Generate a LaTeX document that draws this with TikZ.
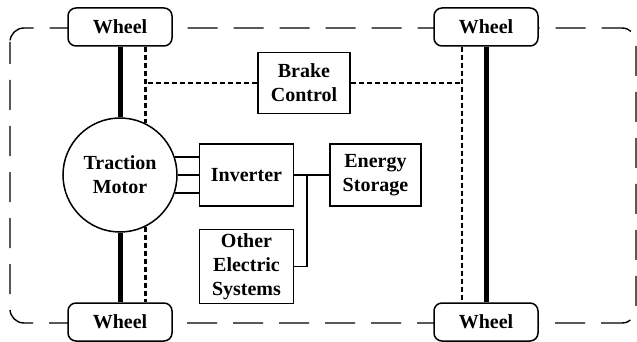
\documentclass[tikz,border=0pt]{standalone}
\usepackage{fontspec}
\setmainfont{Liberation Serif}
\usepackage{tikz}
\usetikzlibrary{positioning,calc}
\tikzset{
  lbl/.style={font=\fontsize{20}{24}\selectfont\bfseries, align=center},
  block/.style={lbl, rectangle, draw, line width=1.5pt, fill=white, inner sep=2pt},
  wheel/.style={block, rounded corners=8pt, minimum width=104pt, minimum height=38pt},
  motorc/.style={lbl, circle, draw, line width=1.5pt, fill=white, minimum size=114pt, inner sep=0pt},
  shaft/.style={line width=5pt},
  ctrl/.style={line width=2.6pt, dash pattern=on 5pt off 3pt},
  wire/.style={line width=1.5pt},
  frame/.style={line width=1.4pt, dash pattern=on 30pt off 16pt, dash phase=8pt, rounded corners=14pt},
}
\begin{document}
\begin{tikzpicture}[x=1pt, y=-1pt, node distance=21pt and 21pt]
  \useasboundingbox (0,0) rectangle (637,342);
  % vehicle outline
  \draw[frame] (10,28) rectangle (636,323);
  % wheels
  \node[wheel] (wTL) at (120,27) {Wheel};
  \node[wheel] (wTR) at (486,27) {Wheel};
  \node[wheel] (wBL) at (120,322) {Wheel};
  \node[wheel] (wBR) at (486,322) {Wheel};
  % drive train
  \node[motorc] (motor) at (120,175) {Traction\\Motor};
  \node[block, right=of motor, minimum width=94pt, minimum height=62pt] (inv) {Inverter};
  \node[block, right=35pt of inv, minimum width=91pt, minimum height=62pt] (es) {Energy\\Storage};
  \node[block, below=22pt of inv, minimum width=94pt, minimum height=74pt] (oes) {Other\\Electric\\Systems};
  \node[block, minimum width=92pt, minimum height=61pt] (brake) at (304,83) {Brake\\Control};
  \coordinate (jn) at ($(inv.east)!0.37!(es.west)$);
  \coordinate (rtop) at ([xshift=-24pt]wTR.south);
  \coordinate (rbot) at ([xshift=-24pt]wBR.north);
  % axles
  \draw[shaft] (wTL) -- (motor);
  \draw[shaft] (motor) -- (wBL);
  \draw[shaft] (wTR) -- (wBR);
  % brake lines
  \draw[ctrl] (motor.64 |- wTL.south) -- (motor.64);
  \draw[ctrl] (motor.-64) -- (motor.-64 |- wBL.north);
  \draw[ctrl] (rtop) -- (rbot);
  \draw[ctrl] (brake.west) -- (brake.west -| motor.64);
  \draw[ctrl] (brake.east) -- (brake.east -| rtop);
  % power wiring
  \draw[wire] (motor.18) -- (motor.18 -| inv.west);
  \draw[wire] (motor.east) -- (inv.west);
  \draw[wire] (motor.-18) -- (motor.-18 -| inv.west);
  \draw[wire] (inv.east) -- (es.west);
  \draw[wire] (jn) |- (oes.east);
\end{tikzpicture}
\end{document}
